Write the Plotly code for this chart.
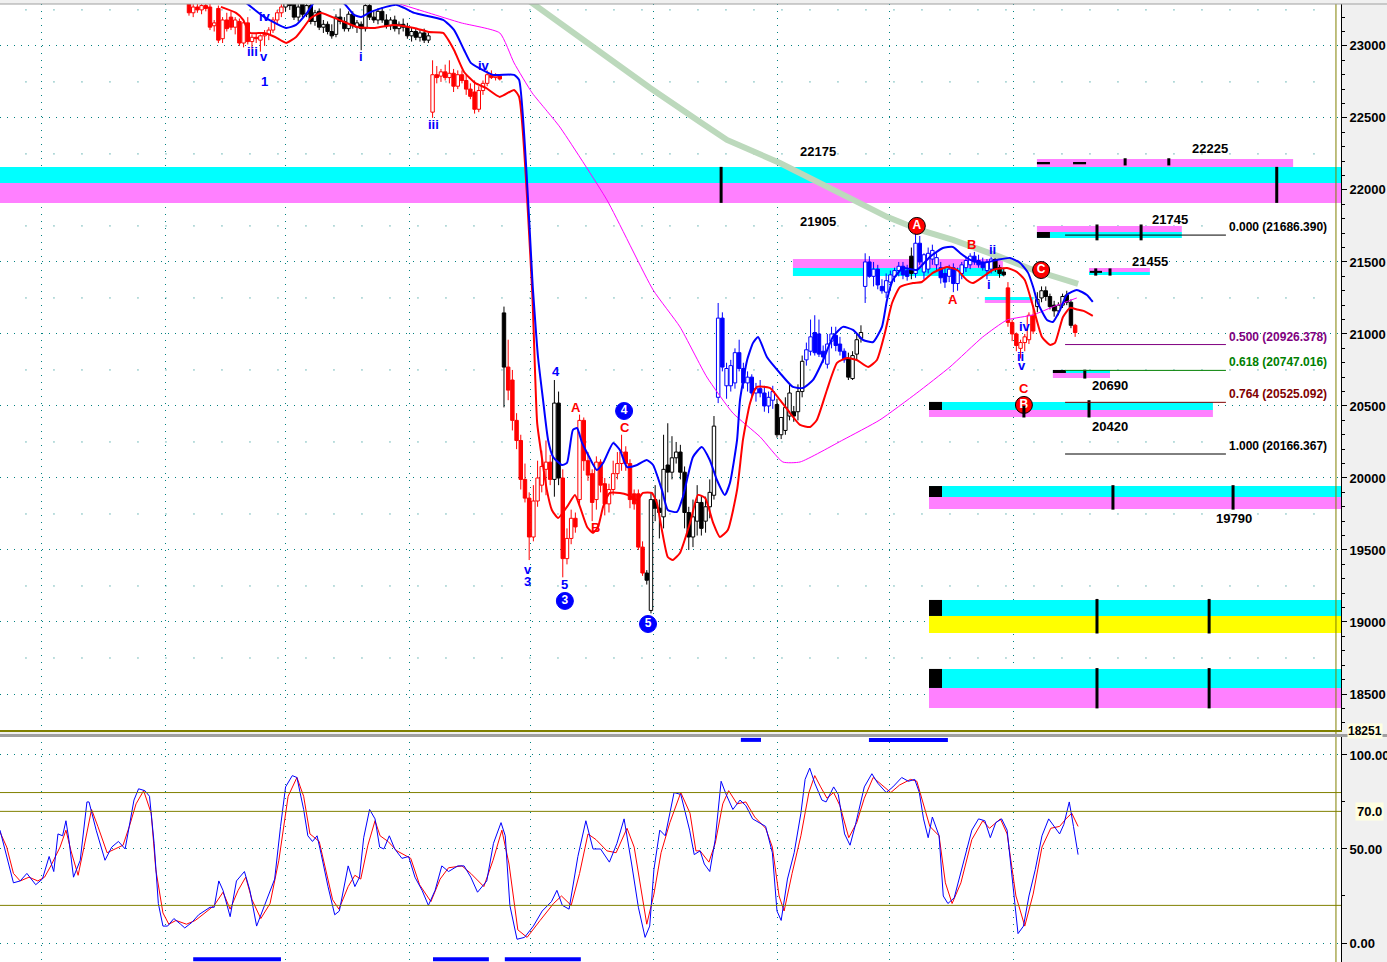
import plotly.graph_objects as go

# ---------------- candles (bar index starts at FIRST_BAR) ----------------
FIRST_BAR = 45
opens = [
    23300, 23230, 23270, 23250, 23280, 23270, 23140, 23260, 23050, 23180,
    23200, 23130, 23170, 23020, 23160, 23030, 23060, 23040, 23070, 23080,
    23110, 23180, 23230, 23270, 23300, 23290, 23200, 23300, 23220, 23280,
    23170, 23240, 23130, 23150, 23100, 23080, 23200, 23170, 23120, 23220,
    23130, 23150, 23120, 23280, 23200, 23180, 23240, 23180, 23140, 23180,
    23120, 23150, 23130, 23070, 23100, 23060, 23090, 23040, 22540, 22800,
    22790, 22820, 22780, 22810, 22720, 22800, 22760, 22700, 22680, 22560,
    22690, 22740, 22800, 22780, 22790, 21146, 20770, 20680, 20400, 20260,
    19990, 19860, 19590, 19840, 19950, 20060, 20110, 19990, 20520, 20000,
    19440, 19580, 19720, 19850, 20400, 20120, 20030, 19850, 20110, 19960,
    19820, 19920, 20030, 20100, 20180, 20100, 19890, 19890, 19520, 19340,
    19080, 19850, 19790, 19730, 20090, 20040, 20140, 20180, 20040, 19760,
    19590, 19700, 19830, 19700, 19800, 19880, 20560, 21110, 20640, 20640,
    20660, 20870, 20760, 20660, 20700, 20590, 20620, 20590, 20500, 20540,
    20510, 20300, 20330, 20430, 20460, 20460, 20600, 20820, 20880, 21010,
    21000, 20880, 20790, 20950, 20990, 20930, 20880, 20830, 20690, 20860,
    20970, 21330, 21500, 21400, 21450, 21330, 21290, 21360, 21400, 21440,
    21470, 21440, 21540, 21420, 21630, 21430, 21450, 21520, 21480, 21460,
    21420, 21400, 21460, 21350, 21420, 21460, 21480, 21540, 21510, 21500,
    21440, 21450, 21520, 21460, 21430, 21320, 21080, 21000, 20900, 20940,
    20960, 21130, 21190, 21250, 21300, 21260, 21200, 21160, 21200, 21270,
    21220, 21060,
]
highs = [
    23340, 23290, 23300, 23290, 23310, 23300, 23180, 23280, 23200, 23230,
    23240, 23200, 23190, 23180, 23200, 23080, 23090, 23080, 23110, 23130,
    23200, 23250, 23290, 23320, 23330, 23320, 23290, 23330, 23300, 23310,
    23250, 23260, 23180, 23170, 23150, 23220, 23260, 23200, 23240, 23240,
    23180, 23170, 23290, 23300, 23240, 23260, 23270, 23220, 23200, 23210,
    23170, 23190, 23160, 23130, 23120, 23110, 23120, 23090, 22900, 22860,
    22840, 22870, 22900, 22840, 22830, 22830, 22800, 22740, 22760, 22720,
    22760, 22830, 22830, 22810, 22800, 21190, 20960, 20750, 20450, 20300,
    20100, 19900, 19950, 20120, 20190, 20260, 20160, 20680, 20600, 20060,
    19650, 19780, 19760, 20440, 20420, 20180, 20060, 20150, 20130, 20000,
    19960, 20120, 20180, 20300, 20220, 20130, 19920, 19920, 19560, 19360,
    19900, 19950, 19850, 20300, 20380, 20290, 20250, 20230, 20080, 19800,
    19850, 19950, 19880, 19870, 19990, 20430, 21215, 21150, 20800, 20820,
    20900, 20960, 20800, 20740, 20720, 20660, 20680, 20640, 20600, 20640,
    20550, 20420, 20560, 20650, 20500, 20650, 20850, 20940, 21100, 21130,
    21100, 20920, 21000, 21050, 21050, 20980, 20900, 20870, 20880, 21000,
    21060, 21560, 21540, 21500, 21480, 21380, 21420, 21440, 21460, 21500,
    21500, 21480, 21600, 21700, 21680, 21560, 21600, 21620, 21560, 21500,
    21460, 21480, 21490, 21460, 21500, 21530, 21560, 21570, 21550, 21530,
    21520, 21540, 21560, 21480, 21460, 21360, 21100, 21010, 20960, 21000,
    21150, 21200, 21290, 21330, 21330, 21280, 21230, 21220, 21280, 21300,
    21240, 21070,
]
lows = [
    23210, 23200, 23230, 23220, 23240, 23110, 23100, 23020, 23020, 23100,
    23110, 23080, 23000, 22990, 23010, 22980, 23020, 22960, 23000, 23040,
    23090, 23150, 23200, 23240, 23250, 23180, 23170, 23200, 23200, 23150,
    23140, 23110, 23090, 23080, 23050, 23060, 23150, 23100, 23100, 23120,
    23090, 22970, 23100, 23180, 23160, 23150, 23160, 23120, 23110, 23100,
    23080, 23100, 23050, 23030, 23040, 23030, 23020, 23020, 22500, 22740,
    22750, 22760, 22740, 22680, 22700, 22740, 22660, 22630, 22530, 22540,
    22660, 22720, 22770, 22760, 22760, 20490, 20540, 20330, 20200, 19920,
    19830, 19430, 19560, 19800, 19900, 19880, 19950, 19870, 19950, 19310,
    19400, 19540, 19620, 19800, 20050, 19980, 19700, 19780, 19900, 19740,
    19760, 19880, 19990, 20050, 20050, 19790, 19780, 19500, 19320, 19260,
    19060, 19700, 19580, 19650, 19900, 19990, 20100, 19990, 19650, 19500,
    19520, 19600, 19600, 19620, 19720, 19850, 20520, 20740, 20550, 20600,
    20620, 20740, 20620, 20600, 20560, 20530, 20560, 20460, 20450, 20480,
    20280, 20270, 20300, 20400, 20390, 20400, 20560, 20780, 20850, 20850,
    20840, 20800, 20760, 20900, 20880, 20850, 20800, 20680, 20680, 20820,
    20940, 21215, 21390, 21330, 21310, 21280, 21250, 21300, 21360, 21400,
    21380, 21370, 21380, 21390, 21480, 21380, 21420, 21480, 21440, 21350,
    21320, 21360, 21290, 21300, 21380, 21430, 21450, 21480, 21460, 21440,
    21380, 21420, 21430, 21390, 21400, 21050, 20950, 20880, 20830, 20880,
    20930, 21000, 21150, 21220, 21230, 21170, 21120, 21130, 21180, 21200,
    21040, 20980,
]
closes = [
    23230, 23270, 23250, 23280, 23260, 23130, 23160, 23040, 23180, 23120,
    23130, 23180, 23020, 23160, 23030, 23060, 23050, 23070, 23080, 23110,
    23180, 23230, 23270, 23300, 23280, 23200, 23270, 23220, 23280, 23170,
    23230, 23130, 23150, 23100, 23070, 23200, 23170, 23120, 23220, 23140,
    23160, 23120, 23280, 23200, 23180, 23240, 23180, 23140, 23180, 23120,
    23150, 23130, 23070, 23100, 23060, 23090, 23040, 23070, 22800, 22780,
    22820, 22780, 22810, 22720, 22800, 22760, 22700, 22650, 22560, 22690,
    22740, 22800, 22780, 22790, 22770, 20770, 20610, 20400, 20260, 19990,
    19860, 19590, 19840, 20000, 20080, 20110, 19990, 20520, 20000, 19440,
    19580, 19720, 19660, 20400, 20120, 20020, 19830, 20110, 19950, 19820,
    19920, 20030, 20100, 20180, 20100, 19850, 19820, 19520, 19340, 19290,
    19850, 19790, 19760, 20060, 20040, 20140, 20180, 20040, 19760, 19590,
    19730, 19830, 19650, 19800, 19900, 20360, 21110, 20770, 20760, 20780,
    20870, 20760, 20660, 20700, 20590, 20620, 20590, 20500, 20560, 20600,
    20300, 20420, 20490, 20590, 20430, 20600, 20810, 20890, 20980, 20870,
    20860, 20840, 20930, 21000, 20920, 20880, 20820, 20700, 20850, 20960,
    21010, 21500, 21400, 21450, 21340, 21300, 21370, 21410, 21440, 21470,
    21410, 21400, 21420, 21630, 21500, 21550, 21560, 21580, 21530, 21390,
    21360, 21450, 21350, 21440, 21480, 21510, 21540, 21500, 21480, 21460,
    21500, 21520, 21450, 21420, 21410, 21080, 21000, 20920, 20940, 20980,
    21130, 21020, 21240, 21300, 21260, 21190, 21160, 21200, 21260, 21220,
    21060, 21010,
]
# indicator colour of each candle: r = red, b = blue, k = black
bar_colors = ("r" * 23 + "k" * 35 + "r" * 17 + "k" + "r" * 11 + "k" * 2 + "r" * 20
              + "k" * 17 + "b" * 14 + "k" * 7 + "b" * 10 + "k" * 4 + "b" * 11 + "k"
              + "b" * 19 + "k" * 3 + "r" * 7 + "k" * 9 + "r")

# ---------------- overlay lines (bar, price) ----------------
ma_blue = [(58.6, 23299), (62.9, 23201), (68.1, 23125), (70.5, 23146), (73.1, 23229), (74.8, 23299),
           (81.7, 23299), (84.3, 23215), (86, 23201), (88.3, 23236), (91.9, 23271), (94.3, 23285),
           (96.2, 23264), (98.6, 23229), (105.5, 23181), (108.1, 23111), (110.5, 22972), (112.1, 22882),
           (114, 22847), (117.4, 22799), (122.4, 22799), (123.6, 22764), (126.9, 21306), (128.1, 20840),
           (129.3, 20542), (130.5, 20264), (131.7, 20146), (133.8, 20090), (135, 20104), (136.4, 20333),
           (137.4, 20347), (138.6, 20243), (139.8, 20174), (142.1, 20056), (143.6, 20104), (146, 20243),
           (147.6, 20194), (149.3, 20076), (151.7, 20090), (154, 20125), (155.5, 20090), (157.6, 19917),
           (159, 19778), (161.2, 19764), (162.6, 19868), (165, 20146), (167.1, 20215), (169, 20125),
           (170.7, 19986), (172.6, 19882), (173.8, 19965), (175.5, 20264), (176.2, 20542), (177.9, 20819),
           (179.3, 20938), (180.5, 20979), (182.6, 20840), (185.7, 20729), (188.8, 20632), (191.2, 20625),
           (193.6, 20681), (196, 20819), (198.3, 20979), (200.7, 21049), (203.1, 21028), (205.5, 20958),
           (207.9, 20944), (210, 21049), (211.2, 21236), (212.6, 21375), (215, 21458), (218.3, 21444),
           (221.4, 21535), (224.5, 21597), (226.9, 21604), (228.6, 21562), (231, 21514), (234, 21493),
           (237.4, 21514), (240.5, 21528), (242.9, 21493), (244.8, 21424), (246, 21326), (247.1, 21215),
           (249.3, 21097), (250.7, 21083), (252.4, 21167), (254, 21271), (256.4, 21306), (258.8, 21271),
           (260.2, 21222)]
ma_red = [(52.6, 23271), (56.2, 23229), (57.9, 23181), (59.5, 23090), (62.9, 23090), (65.5, 23062),
          (68.1, 23021), (70.5, 23062), (72.4, 23132), (74, 23194), (76.4, 23229), (80.7, 23181),
          (85, 23132), (89.3, 23125), (93.6, 23146), (98.6, 23125), (102.1, 23097), (105.5, 23090),
          (108.1, 22972), (110.5, 22819), (113.1, 22743), (115.7, 22708), (119, 22646), (122.4, 22694),
          (123.6, 22646), (126.7, 21306), (127.9, 20382), (129, 20146), (130.2, 19917), (131.4, 19778),
          (132.9, 19722), (135, 19799), (136.9, 19882), (138.1, 19799), (139.8, 19660), (141.2, 19618),
          (142.4, 19660), (143.6, 19799), (145.2, 19896), (147.6, 19896), (149.5, 19882), (151.7, 19847),
          (153.1, 19896), (155.2, 19896), (156.4, 19827), (157.6, 19639), (159, 19451), (160.2, 19431),
          (161.9, 19479), (164.3, 19688), (166.2, 19882), (167.9, 19861), (169.8, 19688), (171.4, 19590),
          (173.3, 19639), (175.5, 19917), (176.9, 20264), (178.6, 20521), (180.2, 20632), (183.3, 20625),
          (185.7, 20542), (188.1, 20451), (190.5, 20368), (192.9, 20354), (194.5, 20403), (196.9, 20611),
          (199.3, 20799), (201.7, 20833), (204, 20819), (206.7, 20771), (208.8, 20819), (210.7, 21007),
          (212.4, 21215), (214.3, 21326), (217.4, 21354), (219.5, 21361), (222.1, 21424), (225.5, 21465),
          (227.9, 21444), (230.2, 21375), (231.7, 21354), (234, 21396), (236.4, 21444), (239.8, 21458),
          (242.1, 21431), (244, 21375), (246, 21188), (248.1, 20979), (250, 20924), (251.2, 20938),
          (253.1, 21118), (254.8, 21181), (256.4, 21170), (258, 21160), (260.2, 21125)]
ma_magenta = [(94.3, 23299), (102.1, 23229), (109.8, 23160), (119, 23090), (122.4, 22882), (126.7, 22674),
              (130, 22556), (133.3, 22437), (144.5, 21931), (155.5, 21306), (161.9, 21049), (168.3, 20701),
              (174.5, 20451), (181, 20285), (186.4, 20111), (190.5, 20111), (200.7, 20264), (209.5, 20403),
              (218.3, 20590), (226.2, 20771), (234, 20979), (239.8, 21097), (246, 21132), (250.7, 21188),
              (256.4, 21250)]
ma_green = [(125.7, 23319), (133.3, 23160), (142.9, 22958), (154.8, 22708), (166.7, 22472), (173.1, 22347),
            (185.7, 22187), (198.3, 22000), (211.2, 21813), (219, 21722), (226.9, 21653), (238.1, 21535),
            (246, 21444), (256.7, 21347)]

# ---------------- stochastic (bar, value) ----------------
stoch_k = [(0, 60), (1.6, 46), (3.2, 32), (4.8, 33), (6.4, 37), (8.5, 31), (10.1, 34), (11.7, 46), (12.8, 38),
           (13.8, 58), (14.9, 57), (15.7, 65), (16.4, 55), (17.5, 35), (19.1, 44), (20.7, 75), (21.2, 75),
           (22.9, 60), (25, 44), (26.6, 51), (28.2, 54), (29.8, 50), (31.9, 76), (33, 82), (34.5, 81),
           (35.6, 78), (36.7, 53), (37.7, 21), (38.8, 9), (39.9, 9), (41.4, 13), (43, 10), (44, 8),
           (45.7, 11), (47.3, 15), (50, 19), (51, 19), (52.1, 33), (53.1, 28), (54.8, 14), (56.3, 33),
           (58.2, 38), (59.5, 28), (61.1, 9), (63.8, 25), (65.4, 34), (66.8, 62), (68, 83), (69.6, 89),
           (70.7, 88), (72.3, 71), (73.3, 57), (74.4, 54), (75.5, 57), (76.5, 47), (78.1, 30), (79.7, 15),
           (80.8, 17), (82.9, 41), (84.5, 30), (85.6, 35), (86.6, 56), (88, 71), (89.3, 66), (90.4, 51),
           (91.4, 50), (92.7, 57), (94, 50), (95.7, 45), (97.3, 46), (98.8, 35), (100.5, 28), (102, 20),
           (103.6, 28), (105.2, 41), (106.8, 38), (109, 41), (110.5, 41), (112.1, 35), (113.7, 27),
           (115.9, 33), (117.5, 53), (119.3, 64), (120.3, 57), (121.4, 20), (123.1, 2), (124.9, 3),
           (127, 9), (129.1, 17), (131.3, 22), (132.6, 28), (133.9, 20), (135.5, 18), (137.6, 46),
           (139.5, 65), (141.2, 50), (143, 50), (145.1, 43), (146.9, 53), (148.6, 66), (150.4, 42),
           (152, 19), (153.6, 3), (154.7, 9), (155.7, 39), (157.1, 60), (158.4, 57), (160.5, 80),
           (162.1, 79), (164.2, 60), (165.3, 47), (166.7, 49), (167.7, 42), (169, 38), (170.3, 55),
           (171.7, 86), (172.9, 79), (174.5, 71), (176.2, 76), (177.6, 73), (179.2, 66), (180.7, 64),
           (182.3, 62), (183.9, 48), (185, 17), (186, 12), (187.5, 34), (189.1, 48), (190.7, 69),
           (191.7, 87), (192.8, 93), (194, 85), (195.7, 76), (196.7, 75), (198.5, 83), (199.6, 79),
           (201.1, 58), (202.4, 52), (203.7, 63), (205.8, 83), (207.6, 90), (209, 85), (211, 80),
           (212.6, 83), (214.7, 88), (216.3, 86), (217.8, 87), (218.9, 80), (219.9, 66), (221, 56),
           (222, 67), (223.6, 57), (224.6, 25), (225.7, 21), (227.2, 24), (229.3, 42), (231.4, 60),
           (233, 66), (234.5, 65), (235.8, 56), (237.1, 64), (238.5, 66), (239.8, 60), (240.8, 39),
           (241.6, 21), (242.4, 5), (243.7, 9), (245, 25), (246.5, 39), (248.1, 57), (249.7, 66),
           (251, 62), (252.3, 58), (253.3, 63), (254.6, 75), (255.6, 62), (256.7, 47)]
stoch_d = [(0, 59), (1.6, 51), (3.2, 37), (4.8, 33), (6.9, 35), (9, 33), (10.6, 35), (12.1, 41), (14.3, 51),
           (15.7, 60), (16.9, 49), (18.6, 36), (20, 51), (21.8, 71), (23.3, 62), (25.5, 48), (27.4, 50),
           (29.3, 52), (30.8, 62), (32.4, 74), (34.2, 81), (36, 69), (37.1, 39), (38.8, 16), (40.2, 10),
           (41.9, 12), (44.4, 10), (46.5, 12), (48.8, 16), (51, 20), (53.1, 27), (54.8, 18), (56.7, 28),
           (58.5, 35), (60, 23), (62.1, 13), (64.3, 21), (66.4, 44), (68.6, 78), (70.7, 88), (72.3, 78),
           (73.8, 58), (76, 54), (77.6, 39), (79.2, 23), (80.7, 18), (82.9, 30), (84.5, 36), (85.9, 34),
           (87.6, 52), (89.3, 65), (90.5, 57), (92.4, 54), (94.5, 49), (96.2, 47), (97.8, 45), (99.9, 31),
           (102.6, 22), (104.8, 34), (106.8, 40), (110, 41), (112.1, 37), (115.2, 30), (117.4, 44),
           (119.5, 60), (121.2, 42), (123.3, 7), (125.5, 3), (128.6, 12), (131.8, 21), (133.7, 25),
           (136, 20), (138, 37), (140, 58), (141.9, 55), (144.5, 49), (146.7, 48), (149.3, 61), (151, 51),
           (153.1, 21), (154, 10), (155.7, 26), (157.4, 48), (159.5, 64), (162.1, 80), (164.3, 69),
           (165.7, 49), (166.7, 49), (168.8, 43), (170.3, 53), (172.1, 74), (173.5, 81), (175.5, 74),
           (177.6, 75), (179.7, 67), (182.3, 61), (183.9, 51), (185.5, 25), (186.7, 17), (188.6, 37),
           (190.7, 57), (192.6, 80), (194, 89), (195.4, 83), (196.9, 77), (198.5, 80), (200, 73),
           (202.1, 56), (204, 64), (205.8, 77), (207.9, 88), (210, 84), (212.1, 80), (214.2, 84),
           (216.8, 87), (218.3, 86), (219.9, 74), (221.4, 62), (223.6, 57), (225.1, 32), (226.7, 21),
           (228.8, 32), (231.4, 55), (234, 65), (235.6, 61), (238.2, 66), (239.8, 58), (241.9, 25),
           (244, 9), (246, 26), (248.1, 51), (250.2, 61), (252.3, 62), (253.8, 66), (255.2, 69), (256.7, 62)]
stoch_levels = [80, 70, 20]
signal_top = [(176.4, 181.2), (206.9, 225.7)]
signal_bottom = [(46, 66.9), (103.1, 116.4), (120.2, 138.3)]

# ---------------- support / resistance zones (x0, x1, low, high, colour) ----------------
zones = [
    (0, 320, 22048, 22160, "#00FFFF"), (0, 320, 21910, 22048, "#FF80FF"),
    (246.9, 307.9, 22160, 22215, "#FF80FF"),
    (246.9, 281.4, 21708, 21750, "#FF80FF"), (246.9, 281.4, 21667, 21708, "#00FFFF"),
    (259.3, 273.8, 21431, 21458, "#FF80FF"), (259.3, 273.8, 21410, 21431, "#00FFFF"),
    (188.8, 238.8, 21458, 21521, "#FF80FF"), (188.8, 238.8, 21403, 21458, "#00FFFF"),
    (234.5, 246, 21236, 21257, "#00FFFF"), (234.5, 246, 21215, 21236, "#FF80FF"),
    (250.7, 264.3, 20729, 20750, "#00FFFF"), (250.7, 264.3, 20694, 20729, "#FF80FF"),
    (221.2, 288.8, 20472, 20528, "#00FFFF"), (221.2, 288.8, 20424, 20472, "#FF80FF"),
    (221.2, 320, 19868, 19944, "#00FFFF"), (221.2, 320, 19785, 19868, "#FF80FF"),
    (221.2, 320, 19042, 19153, "#00FFFF"), (221.2, 320, 18924, 19042, "#FFFF00"),
    (221.2, 320, 18542, 18674, "#00FFFF"), (221.2, 320, 18403, 18542, "#FF80FF"),
]
zone_blocks = [(221.2, 224.3, 20472, 20528), (221.2, 224.3, 19868, 19944), (221.2, 224.3, 19042, 19153),
               (221.2, 224.3, 18542, 18674), (246.9, 250, 21667, 21708), (250.7, 253.8, 20729, 20750),
               (246.9, 250, 22178, 22194), (255.5, 258.6, 22178, 22194), (259.5, 262.4, 21424, 21438)]
zone_ticks = [(171.7, 21910, 22160), (304, 21910, 22160), (267.9, 22170, 22220), (278.3, 22170, 22220),
              (261.2, 21650, 21760), (271.7, 21650, 21760), (260.9, 21405, 21455), (264.3, 21405, 21455),
              (258.3, 20690, 20752), (243.8, 20420, 20500), (259.3, 20420, 20540), (265, 19780, 19950),
              (293.6, 19780, 19950), (261.2, 18920, 19160), (287.9, 18920, 19160), (261.2, 18400, 18680),
              (287.9, 18400, 18680)]
zone_labels = [("22175", 194.8, 22264), ("21905", 194.8, 21778), ("22225", 288.1, 22285),
               ("21745", 278.6, 21792), ("21455", 273.8, 21500), ("20690", 264.3, 20639),
               ("20420", 264.3, 20354), ("19790", 293.8, 19722)]

# ---------------- Fibonacci retracement ----------------
fib_ratios = ["0.000", "0.500", "0.618", "0.764", "1.000"]
fib_levels = [21686.390, 20926.378, 20747.016, 20525.092, 20166.367]
fib_colors = ["#000000", "#800080", "#008000", "#800000", "#000000"]
fib_span = (253.6, 291.9)
fib_label_x = 292.1

# ---------------- Elliott wave labels ----------------
wave_blue = [("iv", 63.1, 23201), ("iii", 60.2, 22958), ("v", 62.9, 22924), ("1", 62.9, 22750),
             ("i", 86, 22924), ("iii", 103.1, 22451), ("iv", 115.2, 22861), ("v", 125.7, 19361),
             ("3", 125.7, 19278), ("4", 132.4, 20736), ("5", 134.3, 19257), ("i", 235.5, 21340),
             ("ii", 236.4, 21583), ("iv", 244, 21049), ("ii", 243.1, 20840), ("v", 243.4, 20780)]
wave_red = [("A", 137.1, 20486), ("B", 141.9, 19653), ("C", 148.8, 20347), ("B", 231.4, 21618),
            ("A", 226.9, 21236), ("C", 243.8, 20618)]
circ_blue = [("3", 134.5, 19146), ("4", 148.6, 20465), ("5", 154.3, 18986)]
circ_red = [("A", 218.3, 21750), ("C", 247.9, 21444), ("B", 243.8, 20507)]

vgrid = [9.8, 39.3, 67.9, 97.4, 126.2, 155.5, 185.2, 211.7, 241.4]
minor_grid_levels = [18750, 19250, 19750, 20250, 20750, 21250, 21750, 22250, 22750, 23250]
axis_low_label = "18251"

# ---------------- figure ----------------
H = 962
MAIN_DOM = [1 - 730 / H, 1 - 4 / H]
STO_DOM = [0, 1 - 735 / H]
X_RANGE = [0, 319.3]
P_RANGE = [18250, 23291]
COL = {"r": "#FF0000", "b": "#0000FF", "k": "#000000"}
BOLD = dict(family="Arial", size=12, color="black", weight="bold")

fig = go.Figure()

bar_x = list(range(FIRST_BAR, FIRST_BAR + len(opens)))
for code, col in COL.items():
    for hollow in (True, False):
        xs, bases, hs = [], [], []
        for x, o, c, cc in zip(bar_x, opens, closes, bar_colors):
            if cc != code or (c > o) != hollow:
                continue
            xs.append(x)
            bases.append(min(o, c))
            hs.append(max(abs(c - o), 8))
        if xs:
            fig.add_trace(go.Bar(x=xs, y=hs, base=bases, width=0.82,
                                 marker=dict(color="white" if hollow else col, line=dict(color=col, width=1)),
                                 xaxis="x", yaxis="y", hoverinfo="skip"))
    wx, wy = [], []
    for x, o, h, l, c, cc in zip(bar_x, opens, highs, lows, closes, bar_colors):
        if cc != code:
            continue
        wx += [x, x, None, x, x, None]
        wy += [h, max(o, c), None, min(o, c), l, None]
    fig.add_trace(go.Scatter(x=wx, y=wy, mode="lines", line=dict(color=col, width=1),
                             xaxis="x", yaxis="y", hoverinfo="skip"))


def xs_of(p):
    return [a for a, _ in p]


def ys_of(p):
    return [b for _, b in p]


for pts, col, w, shape in [(ma_green, "#BCD9BC", 6, "linear"), (ma_magenta, "#FF00FF", 1, "spline"),
                           (ma_red, "#FF0000", 2, "spline"), (ma_blue, "#0000FF", 2, "spline")]:
    fig.add_trace(go.Scatter(x=xs_of(pts), y=ys_of(pts), mode="lines",
                             line=dict(color=col, width=w, shape=shape, smoothing=0.5),
                             xaxis="x", yaxis="y", hoverinfo="skip"))

for pts, col in [(stoch_d, "#FF0000"), (stoch_k, "#0000FF")]:
    fig.add_trace(go.Scatter(x=xs_of(pts), y=ys_of(pts), mode="lines", line=dict(color=col, width=1),
                             xaxis="x2", yaxis="y2", hoverinfo="skip"))

for items, col in [(circ_blue, "#0000FF"), (circ_red, "#FF0000")]:
    fig.add_trace(go.Scatter(x=[i[1] for i in items], y=[i[2] for i in items], text=[i[0] for i in items],
                             mode="markers+text", textposition="middle center",
                             marker=dict(size=17, color=col, line=dict(color="black" if col == "#FF0000" else col, width=1)),
                             textfont=dict(family="Arial", size=12, color="white", weight="bold"),
                             xaxis="x", yaxis="y", hoverinfo="skip"))

shapes = []
for lvl in minor_grid_levels:
    shapes.append(dict(type="line", xref="paper", yref="y", x0=0.019, x1=1, y0=lvl, y1=lvl,
                       line=dict(color="#008080", width=1, dash="1px,27px"), layer="below"))
for x0, x1, lo, hi, col in zones:
    shapes.append(dict(type="rect", xref="x", yref="y", x0=x0, x1=x1, y0=lo, y1=hi,
                       fillcolor=col, line=dict(width=0), layer="between"))
for x0, x1, lo, hi in zone_blocks:
    shapes.append(dict(type="rect", xref="x", yref="y", x0=x0, x1=x1, y0=lo, y1=hi,
                       fillcolor="black", line=dict(width=0), layer="between"))
for x, lo, hi in zone_ticks:
    shapes.append(dict(type="line", xref="x", yref="y", x0=x, x1=x, y0=lo, y1=hi,
                       line=dict(color="black", width=3)))
for lvl, col in zip(fib_levels, fib_colors):
    shapes.append(dict(type="line", xref="x", yref="y", x0=fib_span[0], x1=fib_span[1], y0=lvl, y1=lvl,
                       line=dict(color=col, width=1)))
for lvl in stoch_levels:
    shapes.append(dict(type="line", xref="paper", yref="y2", x0=0, x1=1, y0=lvl, y1=lvl,
                       line=dict(color="#808000", width=1)))
for x0, x1 in signal_top:
    shapes.append(dict(type="line", xref="x2", yref="y2", x0=x0, x1=x1, y0=108, y1=108,
                       line=dict(color="#0000FF", width=4)))
for x0, x1 in signal_bottom:
    shapes.append(dict(type="line", xref="x2", yref="y2", x0=x0, x1=x1, y0=-8.6, y1=-8.6,
                       line=dict(color="#0000FF", width=4)))
shapes.append(dict(type="line", xref="x", yref="paper", x0=318.1, x1=318.1, y0=0, y1=MAIN_DOM[1],
                   line=dict(color="#808000", width=1)))
shapes.append(dict(type="line", xref="paper", yref="paper", x0=0, x1=1387 / 1341, y0=1 - 735.5 / H,
                   y1=1 - 735.5 / H, line=dict(color="#A0A0A0", width=3)))
shapes.append(dict(type="line", xref="paper", yref="paper", x0=0, x1=1387 / 1341, y0=MAIN_DOM[1],
                   y1=MAIN_DOM[1], line=dict(color="#A0A0A0", width=1)))

ann = []
for t, x, y in zone_labels:
    ann.append(dict(text=t, x=x, y=y, xref="x", yref="y", showarrow=False, font=dict(BOLD, size=13)))
for r, lvl, col in zip(fib_ratios, fib_levels, fib_colors):
    ann.append(dict(text=f"{r} ({lvl:.3f})", x=fib_label_x, y=lvl, xref="x", yref="y", xanchor="left",
                    yshift=8, showarrow=False, font=dict(BOLD, size=12, color=col)))
for t, x, y in wave_blue:
    ann.append(dict(text=t, x=x, y=y, xref="x", yref="y", showarrow=False,
                    font=dict(BOLD, size=13, color="#0000FF")))
for t, x, y in wave_red:
    ann.append(dict(text=t, x=x, y=y, xref="x", yref="y", showarrow=False,
                    font=dict(BOLD, size=13, color="#FF0000")))
ann.append(dict(text="70.0", x=1, y=70, xref="paper", yref="y2", xanchor="left", xshift=14,
                showarrow=False, bgcolor="#FFFFE0", borderpad=1, font=dict(BOLD, size=13)))
ann.append(dict(text=axis_low_label, x=1, y=P_RANGE[0], xref="paper", yref="y", xanchor="left", yanchor="top",
                xshift=6, yshift=7, showarrow=False, bgcolor="#FFFFE0", borderpad=0, font=dict(BOLD, size=12)))

grid = dict(showgrid=True, gridcolor="#008080", gridwidth=1, griddash="1px,6px", zeroline=False)
fig.update_layout(
    width=1387, height=962, margin=dict(l=0, r=46, t=0, b=0, autoexpand=False),
    paper_bgcolor="#F0F0F0", plot_bgcolor="white", barmode="overlay", showlegend=False,
    xaxis=dict(domain=[0, 1], range=X_RANGE, anchor="y", tickmode="array", tickvals=vgrid,
               showticklabels=False, ticks="", showline=True, linecolor="#808000", linewidth=2, **grid),
    xaxis2=dict(domain=[0, 1], range=X_RANGE, anchor="y2", matches="x", tickmode="array", tickvals=vgrid,
                showticklabels=False, ticks="", showline=False, **grid),
    yaxis=dict(domain=MAIN_DOM, range=P_RANGE, side="right", anchor="x", tickmode="linear",
               tick0=0, dtick=500, tickformat="d", ticks="outside", ticklen=5, tickcolor="black",
               tickfont=dict(BOLD, size=13), showline=True, linecolor="black", linewidth=1,
               minor=dict(dtick=100, ticks="outside", ticklen=3, tickcolor="black", showgrid=False), **grid),
    yaxis2=dict(domain=STO_DOM, range=[-10.1, 110.6], side="right", anchor="x2", tickmode="array",
                tickvals=[0, 50, 100], ticktext=["0.00", "50.00", "100.00"], ticks="outside", ticklen=5,
                tickcolor="black", tickfont=dict(BOLD, size=13), showline=True, linecolor="black", linewidth=1,
                minor=dict(tickmode="array", tickvals=[25, 75], ticks="outside", ticklen=3, tickcolor="black",
                           showgrid=False), **grid),
    shapes=shapes, annotations=ann,
)

fig.write_html("out.html", config={"displayModeBar": False},
               post_script="document.body.style.margin='0px';document.body.style.overflow='hidden';")
